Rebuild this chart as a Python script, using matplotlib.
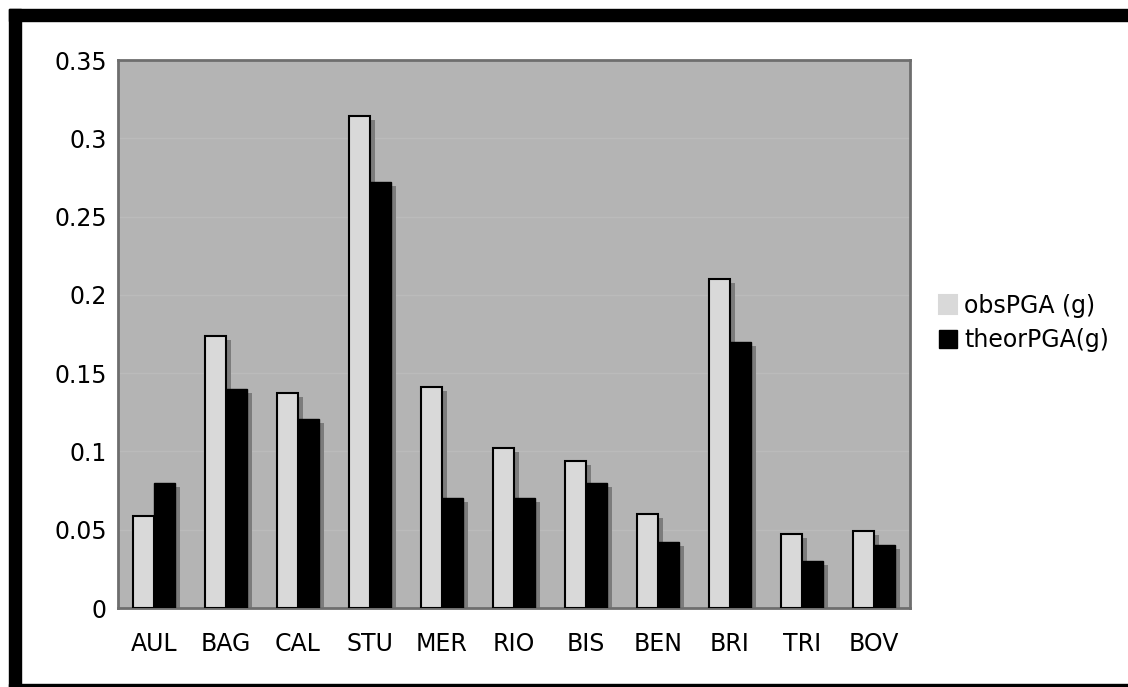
import numpy as np
import matplotlib
matplotlib.use("Agg")
import matplotlib.pyplot as plt
import matplotlib.transforms as mtransforms
from matplotlib.patches import Rectangle

# データ
stations = ["AUL", "BAG", "CAL", "STU", "MER", "RIO", "BIS", "BEN", "BRI", "TRI", "BOV"]
obs_pga = [0.059, 0.174, 0.137, 0.314, 0.141, 0.102, 0.094, 0.060, 0.210, 0.047, 0.049]
theor_pga = [0.080, 0.140, 0.121, 0.272, 0.070, 0.070, 0.080, 0.042, 0.170, 0.030, 0.040]
y_ticks = [0, 0.05, 0.1, 0.15, 0.2, 0.25, 0.3, 0.35]
y_tick_labels = ["0", "0.05", "0.1", "0.15", "0.2", "0.25", "0.3", "0.35"]

plt.rcParams["font.family"] = ["DejaVu Sans"]

fig = plt.figure(figsize=(11.28, 6.87), dpi=100)
ax = fig.add_axes([118 / 1128, 1 - 608 / 687, (910 - 118) / 1128, (608 - 60) / 687])
ax.set_facecolor("#b4b4b4")

x = np.arange(len(stations))
w = 0.29

# 影（右下にずらす）
shadow = ax.transData + mtransforms.ScaledTranslation(5 / 100, -4 / 100, fig.dpi_scale_trans)
ax.bar(x - w / 2, obs_pga, w, color="#7c7c7c", transform=shadow, zorder=2)
ax.bar(x + w / 2, theor_pga, w, color="#7c7c7c", transform=shadow, zorder=2)

ax.bar(x - w / 2, obs_pga, w, color="#d9d9d9", edgecolor="black", linewidth=1.5,
       label="obsPGA (g)", zorder=3)
ax.bar(x + w / 2, theor_pga, w, color="black", edgecolor="black", linewidth=1.0,
       label="theorPGA(g)", zorder=3)

for yv in y_ticks[1:-1]:
    ax.axhline(yv, color="#bbbbbb", linewidth=1.0, zorder=1)

ax.set_xlim(-0.5, len(stations) - 0.5)
ax.set_ylim(0, 0.35)
ax.set_yticks(y_ticks)
ax.set_yticklabels(y_tick_labels, fontsize=17)
ax.set_xticks(x)
ax.set_xticklabels(stations, fontsize=17)
ax.tick_params(axis="y", length=0, pad=8)
ax.tick_params(axis="x", length=0, pad=17)
for s in ax.spines.values():
    s.set_color("#6e6e6e")
    s.set_linewidth(2)

leg = ax.legend(loc="center left", bbox_to_anchor=(1.01, 0.52), frameon=False,
                fontsize=17, handlelength=0.75, handleheight=0.8, handletextpad=0.3,
                labelspacing=0.45)
leg.get_patches()[0].set_edgecolor("#d9d9d9")

# 外枠（左・上・下）
fig.patches.append(Rectangle((9 / 1128, 1 - 21 / 687), 1.0, 12 / 687, transform=fig.transFigure,
                             color="black", zorder=10))
fig.patches.append(Rectangle((9 / 1128, 0), 12 / 1128, 1 - 9 / 687, transform=fig.transFigure,
                             color="black", zorder=10))
fig.patches.append(Rectangle((9 / 1128, 0), 1.0, 3 / 687, transform=fig.transFigure,
                             color="black", zorder=10))

fig.savefig("out.png", dpi=100)
